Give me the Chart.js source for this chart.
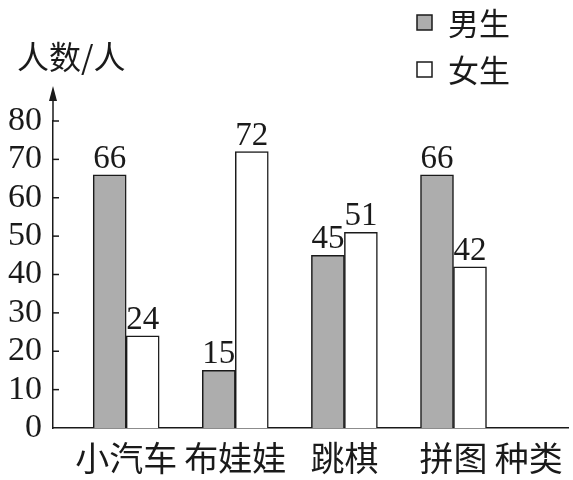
<!DOCTYPE html>
<html>
<head>
<meta charset="utf-8">
<script src="https://cdn.jsdelivr.net/npm/chart.js@4.4.0/dist/chart.umd.min.js"></script>
<style>
  html, body { margin: 0; padding: 0; background: #fff; }
  #wrap { width: 573px; height: 480px; }
</style>
</head>
<body>
<div id="wrap"><canvas id="chart"></canvas></div>
<script>
// --- Dados ---
const categories = ['小汽车', '布娃娃', '跳棋', '拼图'];
const boys = [66, 15, 45, 66];
const girls = [24, 72, 51, 42];
const yTicks = [0, 10, 20, 30, 40, 50, 60, 70, 80];
const xUnit = '种类';
const yTitle = '人数/人';
const seriesNames = ['男生', '女生'];

const CJK = '"Noto Sans CJK SC", "Noto Sans", sans-serif';
const SERIF = '"Liberation Serif", "DejaVu Serif", serif';
const INK = '#1a1a1a';

// posições das categorias no eixo linear (1..4) + rótulo da unidade
const catPos = categories.map((_, i) => i + 1);
const unitPos = 4.69;

const toPoints = (arr) => arr.map((v, i) => ({ x: catPos[i], y: v }));

// --- Plugin de anotações (seta, título, legenda, valores) ---
const decorations = {
    id: 'decorations',
    afterDraw(chart) {
        const { ctx, chartArea, scales } = chart;
        const y = scales.y;
        const axisX = chartArea.left;
        ctx.save();
        ctx.strokeStyle = INK;
        ctx.fillStyle = INK;
        ctx.lineWidth = 1.5;

        // extensão do eixo y com seta
        ctx.beginPath();
        ctx.moveTo(axisX, chartArea.top);
        ctx.lineTo(axisX, 98);
        ctx.stroke();
        ctx.beginPath();
        ctx.moveTo(axisX, 86);
        ctx.lineTo(axisX - 4, 101);
        ctx.lineTo(axisX + 4, 101);
        ctx.closePath();
        ctx.fill();

        // marcas internas
        yTicks.forEach(v => {
            if (v === 0) return;
            const py = y.getPixelForValue(v);
            ctx.beginPath();
            ctx.moveTo(axisX, py);
            ctx.lineTo(axisX + 6, py);
            ctx.stroke();
        });

        // título do eixo y
        ctx.font = '32px ' + CJK;
        ctx.textAlign = 'left';
        ctx.textBaseline = 'middle';
        ctx.fillText(yTitle, 17, 57);

        // legenda
        chart.data.datasets.forEach((ds, i) => {
            const top = 15 + i * 47;
            ctx.fillStyle = ds.backgroundColor;
            ctx.fillRect(417, top, 15, 15);
            ctx.strokeRect(417, top, 15, 15);
            ctx.fillStyle = INK;
            ctx.font = '31px ' + CJK;
            ctx.fillText(ds.label, 448, top + 8);
        });

        // valores sobre as barras
        ctx.font = '33px ' + SERIF;
        ctx.textAlign = 'center';
        ctx.textBaseline = 'alphabetic';
        chart.data.datasets.forEach((ds, i) => {
            chart.getDatasetMeta(i).data.forEach((bar, j) => {
                ctx.fillText(String(ds.data[j].y), bar.x, bar.y - 7);
            });
        });
        ctx.restore();
    }
};

new Chart(document.getElementById('chart'), {
    type: 'bar',
    data: {
        datasets: [
            {
                label: seriesNames[0],
                data: toPoints(boys),
                backgroundColor: '#adadad',
                borderColor: INK,
                borderWidth: 1.5
            },
            {
                label: seriesNames[1],
                data: toPoints(girls),
                backgroundColor: '#ffffff',
                borderColor: INK,
                borderWidth: 1.5
            }
        ]
    },
    options: {
        responsive: true,
        maintainAspectRatio: false,
        animation: false,
        events: [],
        layout: { padding: { top: 121, right: 3, left: 0, bottom: 0 } },
        datasets: { bar: { barThickness: 33 } },
        scales: {
            x: {
                type: 'linear',
                offset: false,
                min: 0.329,
                max: 5.05,
                grid: { display: false, drawTicks: false, offset: false },
                border: { display: true, color: INK, width: 1.5 },
                afterBuildTicks: (scale) => {
                    scale.ticks = catPos.concat([unitPos]).map(v => ({ value: v }));
                },
                afterFit: (scale) => { scale.height = 52; },
                ticks: {
                    autoSkip: false,
                    maxRotation: 0,
                    padding: 10,
                    color: INK,
                    font: { family: CJK, size: 34 },
                    callback: (v) => {
                        const i = catPos.indexOf(v);
                        return i >= 0 ? categories[i] : xUnit;
                    }
                }
            },
            y: {
                min: 0,
                max: 80,
                grid: { display: false, drawTicks: false },
                border: { display: true, color: INK, width: 1.5 },
                afterBuildTicks: (scale) => {
                    scale.ticks = yTicks.map(v => ({ value: v }));
                },
                afterFit: (scale) => { scale.width = 53; },
                ticks: {
                    autoSkip: false,
                    padding: 11,
                    color: INK,
                    font: { family: SERIF, size: 34 }
                }
            }
        },
        plugins: {
            legend: { display: false },
            tooltip: { enabled: false }
        }
    },
    plugins: [decorations]
});
</script>
</body>
</html>
